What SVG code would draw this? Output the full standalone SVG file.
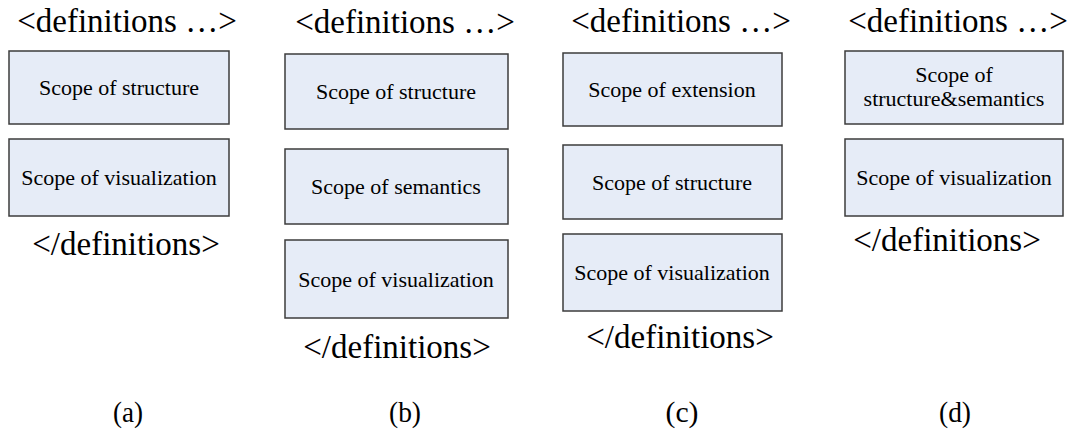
<svg xmlns="http://www.w3.org/2000/svg" width="1074" height="435" viewBox="0 0 1074 435">
<style>
.bg{fill:#ffffff}
.box{fill:#e6ecf7;stroke:#3c3c3c;stroke-width:1.5}
text{font-family:'Liberation Serif',serif;fill:#000}
.bt{font-size:22px;text-anchor:middle}
.h{font-size:33px;text-anchor:middle}
.lab{font-size:30px;text-anchor:middle}
</style>
<rect class="bg" x="0" y="0" width="1074" height="435"/>
<g id="panel-a">
  <text class="h" x="127" y="32">&lt;definitions …&gt;</text>
  <g id="a-structure"><rect class="box" x="9" y="51" width="220" height="73"/><text class="bt" x="119" y="95">Scope of structure</text></g>
  <g id="a-visualization"><rect class="box" x="9" y="139" width="220" height="77"/><text class="bt" x="119" y="185">Scope of visualization</text></g>
  <text class="h" x="126" y="255">&lt;/definitions&gt;</text>
  <text class="lab" x="128" y="422" textLength="30" lengthAdjust="spacingAndGlyphs">(a)</text>
</g>
<g id="panel-b">
  <text class="h" x="405" y="33">&lt;definitions …&gt;</text>
  <g id="b-structure"><rect class="box" x="285" y="54" width="223" height="75"/><text class="bt" x="396" y="99">Scope of structure</text></g>
  <g id="b-semantics"><rect class="box" x="285" y="149" width="223" height="75"/><text class="bt" x="396" y="194">Scope of semantics</text></g>
  <g id="b-visualization"><rect class="box" x="285" y="240" width="223" height="78"/><text class="bt" x="396" y="287">Scope of visualization</text></g>
  <text class="h" x="397" y="358">&lt;/definitions&gt;</text>
  <text class="lab" x="405" y="422" textLength="32" lengthAdjust="spacingAndGlyphs">(b)</text>
</g>
<g id="panel-c">
  <text class="h" x="681" y="32">&lt;definitions …&gt;</text>
  <g id="c-extension"><rect class="box" x="563" y="53" width="219" height="73"/><text class="bt" x="672" y="97">Scope of extension</text></g>
  <g id="c-structure"><rect class="box" x="563" y="145" width="219" height="74"/><text class="bt" x="672" y="190">Scope of structure</text></g>
  <g id="c-visualization"><rect class="box" x="563" y="234" width="219" height="77"/><text class="bt" x="672" y="280">Scope of visualization</text></g>
  <text class="h" x="680" y="348">&lt;/definitions&gt;</text>
  <text class="lab" x="682" y="422" textLength="33" lengthAdjust="spacingAndGlyphs">(c)</text>
</g>
<g id="panel-d">
  <text class="h" x="958" y="32">&lt;definitions …&gt;</text>
  <g id="d-structure-semantics"><rect class="box" x="845" y="51" width="218" height="73"/><text class="bt" x="954" y="82">Scope of</text><text class="bt" x="954" y="106">structure&amp;semantics</text></g>
  <g id="d-visualization"><rect class="box" x="845" y="139" width="218" height="77"/><text class="bt" x="954" y="185">Scope of visualization</text></g>
  <text class="h" x="947" y="251">&lt;/definitions&gt;</text>
  <text class="lab" x="955" y="422" textLength="32" lengthAdjust="spacingAndGlyphs">(d)</text>
</g>
<g id="connectors"></g>
</svg>
